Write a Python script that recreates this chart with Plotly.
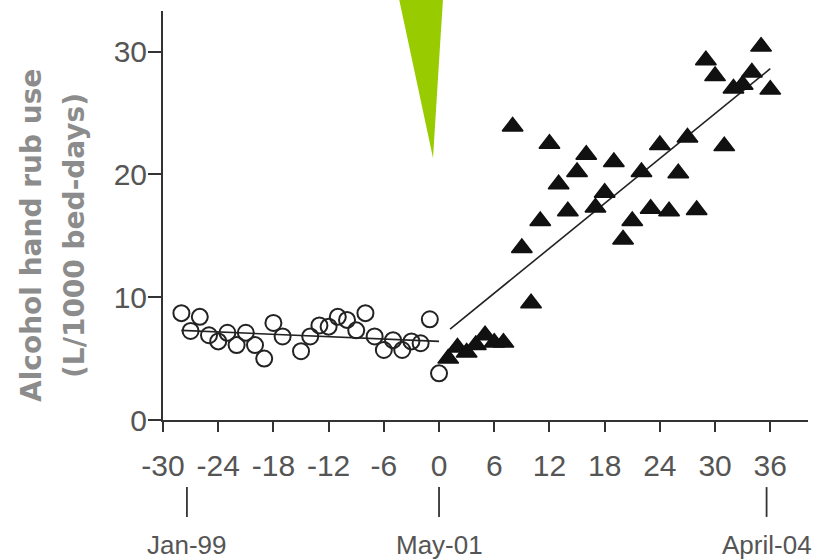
import plotly.graph_objects as go

# ---- data ----
pre_months = [-28, -27, -26, -25, -24, -23, -22, -21, -20, -19, -18, -17, -15, -14,
              -13, -12, -11, -10, -9, -8, -7, -6, -5, -4, -3, -2, -1, 0]
pre_use = [8.7, 7.25, 8.4, 6.9, 6.4, 7.1, 6.1, 7.1, 6.1, 5.0, 7.9, 6.8, 5.6, 6.8,
           7.7, 7.6, 8.4, 8.15, 7.3, 8.7, 6.8, 5.7, 6.5, 5.7, 6.4, 6.25, 8.2, 3.8]

post_months = list(range(1, 37))
post_use = [5.0, 5.9, 5.5, 6.1, 6.9, 6.3, 6.3, 23.9, 14.0, 9.5, 16.2, 22.5,
            19.2, 17.0, 20.2, 21.6, 17.3, 18.5, 21.0, 14.7, 16.2, 20.2, 17.2, 22.4,
            17.0, 20.1, 23.0, 17.1, 29.3, 28.0, 22.3, 27.0, 27.3, 28.3, 30.4, 26.9]

trend_pre_x = [-28, 0]
trend_pre_y = [7.3, 6.4]
trend_post_x = [1.2, 36]
trend_post_y = [7.4, 28.6]

x_tick_vals = [-30, -24, -18, -12, -6, 0, 6, 12, 18, 24, 30, 36]
x_tick_text = ["-30", "-24", "-18", "-12", "-6", "0", "6", "12", "18", "24", "30", "36"]
y_tick_vals = [0, 10, 20, 30]
y_tick_text = ["0", "10", "20", "30"]

date_marker_x = [-27.4, 0, 35.6]
date_marker_text = ["Jan-99", "May-01", "April-04"]

y_title_lines = ["Alcohol hand rub use", "(L/1000 bed-days)"]

# ---- figure ----
FAMILY = "Liberation Sans Narrow, Arial Narrow, Liberation Sans, sans-serif"
TICK_FONT = dict(family=FAMILY, size=30, color="#555555")
DATE_FONT = dict(family=FAMILY, size=26, color="#555555")

fig = go.Figure()

fig.add_trace(go.Scatter(x=trend_pre_x, y=trend_pre_y, mode="lines",
                         line=dict(color="#222222", width=1.6), hoverinfo="skip"))
fig.add_trace(go.Scatter(x=trend_post_x, y=trend_post_y, mode="lines",
                         line=dict(color="#222222", width=1.6), hoverinfo="skip"))
fig.add_trace(go.Scatter(x=pre_months, y=pre_use, mode="markers",
                         marker=dict(symbol="circle-open", size=16,
                                     color="#222222", line=dict(width=2, color="#222222"))))
fig.add_trace(go.Scatter(x=post_months, y=post_use, mode="markers",
                         marker=dict(symbol="triangle-up", size=18, color="#111111",
                                     line=dict(width=1.5, color="#111111"))))

# date markers below the axis
for xv, txt in zip(date_marker_x, date_marker_text):
    fig.add_shape(type="line", xref="x", yref="paper", x0=xv, x1=xv,
                  y0=-0.164, y1=-0.237, line=dict(color="#333333", width=1.8))
    fig.add_annotation(x=xv, y=-0.305, xref="x", yref="paper", text=txt,
                       showarrow=False, font=DATE_FONT, xanchor="center", yanchor="middle")

# y-axis title (two lines, bold grey)
for px_x, line in zip([-0.2031, -0.1364], y_title_lines):
    fig.add_annotation(x=px_x, y=0.45, xref="paper", yref="paper", text=line,
                       showarrow=False, textangle=-90,
                       font=dict(family="DejaVu Sans", size=28, color="#8c8c8c",
                                 weight="bold"),
                       xanchor="center", yanchor="middle")

# green intervention wedge
fig.add_shape(type="path", xref="paper", yref="paper",
              path="M 0.3659 1.03 L 0.4341 1.03 L 0.4186 0.6406 Z",
              fillcolor="#99cc00", line=dict(width=0))

fig.update_layout(
    template="none",
    width=819, height=560,
    margin=dict(l=163, r=11, t=11, b=140),
    paper_bgcolor="white", plot_bgcolor="white",
    showlegend=False,
    xaxis=dict(range=[-30, 40.1], tickmode="array", tickvals=x_tick_vals,
               ticktext=x_tick_text, ticks="outside", ticklen=10, tickwidth=1.6,
               tickcolor="#333333", showline=True, linecolor="#333333", linewidth=2,
               showgrid=False, zeroline=False, tickfont=TICK_FONT,
               ticklabelstandoff=8, automargin=False),
    yaxis=dict(range=[0, 33.3], tickmode="array", tickvals=y_tick_vals,
               ticktext=y_tick_text, ticks="outside", ticklen=13, tickwidth=1.6,
               tickcolor="#333333", showline=True, linecolor="#333333", linewidth=2,
               showgrid=False, zeroline=False, tickfont=TICK_FONT,
               ticklabelstandoff=-5, automargin=False),
)

fig.write_html("out.html",
               config={"displayModeBar": False},
               post_script="document.body.style.margin='0';document.body.style.overflow='hidden';")
